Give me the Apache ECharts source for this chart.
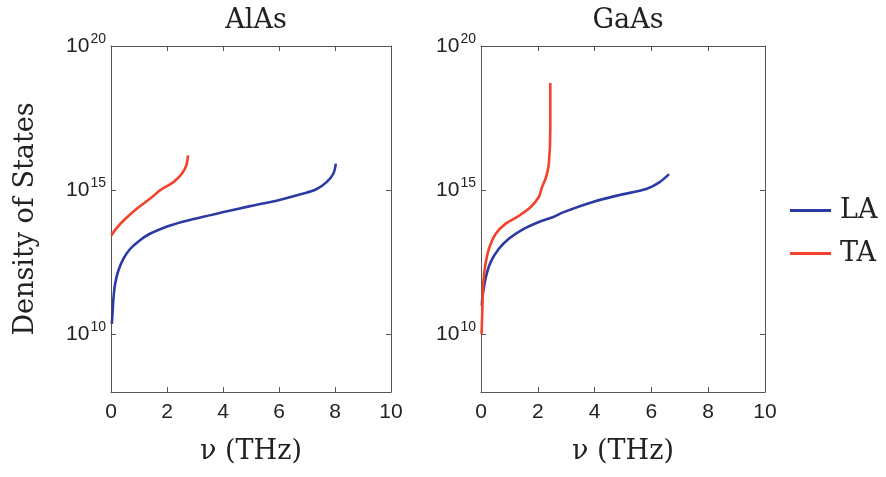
<!DOCTYPE html>
<html>
<head>
<meta charset="utf-8">
<script src="https://cdn.jsdelivr.net/npm/echarts@6/dist/echarts.min.js"></script>
<style>
html,body{margin:0;padding:0;background:#fff;}
#c{width:886px;height:477px;}
</style>
</head>
<body>
<div id="c"></div>
<script>
// ---- data (frequency in THz, density of states) ----
var panelTitles = ['AlAs', 'GaAs'];
var xTicks = [0, 2, 4, 6, 8, 10];
var yTicks = [1e10, 1e15, 1e20];

var alasLA_x = [0.03, 0.06, 0.09, 0.15, 0.27, 0.45, 0.69, 0.99, 1.34, 1.82, 2.23, 2.95, 3.98, 4.97, 5.98, 6.87, 7.35, 7.7, 7.94, 8.03];
var alasLA_y = [2.3e10, 6.8e10, 1.9e11, 5.8e11, 1.7e12, 4.3e12, 9.3e12, 1.7e13, 2.9e13, 4.7e13, 6.5e13, 1.0e14, 1.7e14, 2.8e14, 4.5e14, 7.6e14, 1.1e15, 1.9e15, 3.7e15, 8.3e15];

var alasTA_x = [0.01, 0.2, 0.45, 0.93, 1.4, 1.76, 2.23, 2.53, 2.69, 2.75];
var alasTA_y = [2.7e13, 4.8e13, 8.9e13, 2.3e14, 5.1e14, 1.0e15, 1.9e15, 3.7e15, 7.2e15, 1.6e16];

var gaasLA_x = [0.03, 0.05, 0.17, 0.34, 0.63, 0.99, 1.46, 2.04, 2.57, 2.89, 3.94, 4.88, 5.82, 6.29, 6.62];
var gaasLA_y = [1.0e11, 1.9e11, 9.5e11, 3.2e12, 9.3e12, 2.1e13, 4.3e13, 7.9e13, 1.2e14, 1.7e14, 3.9e14, 6.8e14, 1.1e15, 1.9e15, 3.6e15];

var gaasTA_x = [0.02, 0.05, 0.07, 0.14, 0.28, 0.52, 0.87, 1.34, 1.75, 2.04, 2.14, 2.30, 2.39, 2.44, 2.44, 2.44];
var gaasTA_y = [1.0e10, 8.5e10, 4.3e11, 2.1e12, 9.3e12, 3.1e13, 6.9e13, 1.3e14, 2.6e14, 5.9e14, 1.2e15, 3.0e15, 8.5e15, 1.2e17, 1.8e18, 5.2e18];

function pairs(xs, ys) { return xs.map(function (x, i) { return [x, ys[i]]; }); }

var BLUE = '#2c3ba3', RED = '#f2432a', AX = '#555';
var SERIF = 'DejaVu Serif', SANS = 'Liberation Sans';

var grids = [
  { left: 111, top: 46, width: 280, height: 346 },
  { left: 481, top: 46, width: 284, height: 346 }
];

function xAx(gi, top) {
  return {
    type: 'value', gridIndex: gi, min: 0, max: 10, interval: 2,
    position: top ? 'top' : 'bottom',
    axisLine: { show: true, onZero: false, lineStyle: { color: AX, width: 1 } },
    axisTick: { show: true, inside: true, length: 5, lineStyle: { color: AX } },
    axisLabel: { show: !top, margin: 10, color: '#222', fontFamily: SANS, fontSize: 21 },
    splitLine: { show: false },
    name: top ? '' : 'ν (THz)', nameLocation: 'middle', nameGap: 46,
    nameTextStyle: { fontFamily: SERIF, fontSize: 27, color: '#222' }
  };
}
function yAx(gi, right) {
  return {
    type: 'log', logBase: 10, gridIndex: gi, min: 1e8, max: 1e20,
    position: right ? 'right' : 'left',
    axisLine: { show: true, onZero: false, lineStyle: { color: AX, width: 1 } },
    axisTick: { show: true, inside: true, length: 5, customValues: yTicks, lineStyle: { color: AX } },
    axisLabel: {
      show: !right, customValues: yTicks, margin: 5, color: '#222',
      formatter: function (v) { return '{b|10}{s|' + Math.round(Math.log10(v)) + '}'; },
      rich: {
        b: { fontFamily: SANS, fontSize: 21, color: '#222' },
        s: { fontFamily: SANS, fontSize: 14, color: '#222', padding: [0, 0, 14, 1] }
      }
    },
    splitLine: { show: false },
    minorTick: { show: false },
    name: (gi === 0 && !right) ? 'Density of States' : '', nameLocation: 'middle', nameGap: 72,
    nameTextStyle: { fontFamily: SERIF, fontSize: 27, color: '#222' }
  };
}

function line(name, color, xi, yi, data) {
  return {
    name: name, type: 'line', xAxisIndex: xi, yAxisIndex: yi, data: data,
    showSymbol: false, symbol: 'none', smooth: 0.3,
    lineStyle: { color: color, width: 2.6 }, itemStyle: { color: color },
    z: name === 'TA' ? 3 : 2
  };
}

var option = {
  backgroundColor: '#fff',
  animation: false,
  title: [
    { text: panelTitles[0], left: 251, top: 2, textAlign: 'center', textStyle: { fontFamily: SERIF, fontSize: 27, fontWeight: 'normal', color: '#222' } },
    { text: panelTitles[1], left: 623, top: 2, textAlign: 'center', textStyle: { fontFamily: SERIF, fontSize: 27, fontWeight: 'normal', color: '#222' } }
  ],
  legend: {
    data: ['LA', 'TA'], orient: 'vertical', left: 780, top: 193,
    itemWidth: 41, itemHeight: 3, itemGap: 16, icon: 'rect',
    padding: [4, 4, 4, 10],
    borderWidth: 0,
    textStyle: { fontFamily: SERIF, fontSize: 27, color: '#222', padding: [0, 0, 0, 4] }
  },
  grid: grids,
  xAxis: [xAx(0, false), xAx(0, true), xAx(1, false), xAx(1, true)],
  yAxis: [yAx(0, false), yAx(0, true), yAx(1, false), yAx(1, true)],
  series: [
    line('LA', BLUE, 0, 0, pairs(alasLA_x, alasLA_y)),
    line('TA', RED, 0, 0, pairs(alasTA_x, alasTA_y)),
    line('LA', BLUE, 2, 2, pairs(gaasLA_x, gaasLA_y)),
    line('TA', RED, 2, 2, pairs(gaasTA_x, gaasTA_y))
  ]
};

var chart = echarts.init(document.getElementById('c'), null, { renderer: 'canvas' });
chart.setOption(option);
</script>
</body>
</html>
